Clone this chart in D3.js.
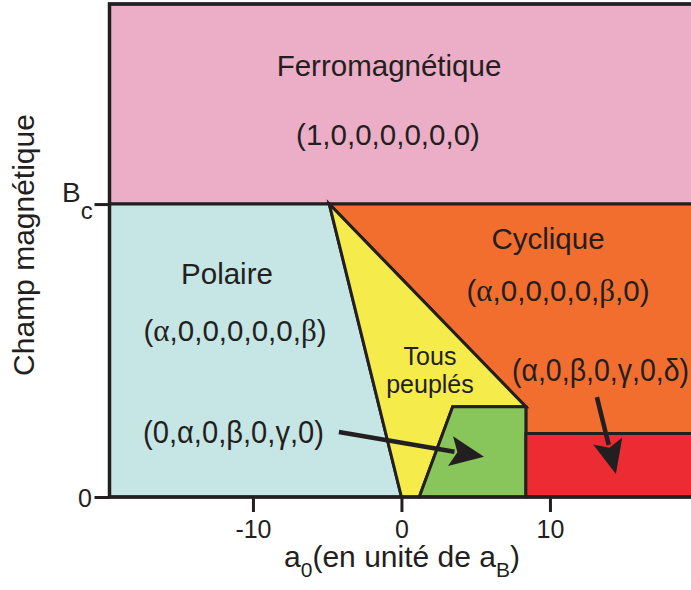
<!DOCTYPE html>
<html>
<head>
<meta charset="utf-8">
<script src="https://cdn.jsdelivr.net/npm/d3@7"></script>
<style>
  html, body { margin: 0; padding: 0; background: #ffffff; overflow: hidden; }
  svg { display: block; }
  text { font-family: "Liberation Sans", Arial, sans-serif; fill: #231f20; }
</style>
</head>
<body>
<svg id="chart" width="691" height="590"></svg>
<script>
// ---- Phase diagram data (a0 in units of aB, field in units of Bc) ----
const xExtent = [-19.66, 19.66];
const yExtent = [0, 1.683];
const xTickValues = [-10, 0, 10];
const xTickLabels = ["-10", "0", "10"];
const yTickValues = [0, 1];
const yTickLabels = ["0", "Bc"];

// boundary points of the phases
const criticalField = 1;               // Bc
const tripleX = -4.86;                 // where the polar and cyclic lines meet Bc
const polarFootX = 0;                  // polar boundary at zero field
const cornerX = 8.38;                  // right edge of the mixed region
const cornerY = 0.308;                 // top of the green pocket
const greenFootX = 1.2;
const greenShoulderX = 3.45;
const redTopY = 0.217;

const phaseNames = ["Ferromagnétique", "Polaire", "Cyclique", "Tous peuplés", "vert", "rouge"];
const phaseColors = ["#ecaec6", "#c6e5e5", "#f26e2f", "#f5eb4a", "#88c55a", "#ec2b32"];

const [x0, x1] = xExtent, [, yTop] = yExtent;
const phasePolygons = [
  [[x0, criticalField], [x1, criticalField], [x1, yTop], [x0, yTop]],
  [[x0, 0], [polarFootX, 0], [tripleX, criticalField], [x0, criticalField]],
  [[tripleX, criticalField], [x1, criticalField], [x1, redTopY], [cornerX, redTopY], [cornerX, cornerY]],
  [[polarFootX, 0], [greenFootX, 0], [greenShoulderX, cornerY], [cornerX, cornerY], [tripleX, criticalField]],
  [[greenFootX, 0], [cornerX, 0], [cornerX, cornerY], [greenShoulderX, cornerY]],
  [[cornerX, 0], [x1, 0], [x1, redTopY], [cornerX, redTopY]]
];

// arrows pointing labels to the small phases (data units)
const arrowStarts = [[-4.21, 0.222], [13.16, 0.341]];
const arrowEnds   = [[5.56, 0.137], [14.44, 0.0785]];

// ---- drawing ----
const svg = d3.select("#chart");
const x = d3.scaleLinear().domain(xExtent).range([109.5, 693.4]);
const y = d3.scaleLinear().domain(yExtent).range([497, 4]);
const line = d3.line().x(d => x(d[0])).y(d => y(d[1]));

svg.append("g").selectAll("path")
  .data(phasePolygons)
  .join("path")
  .attr("d", d => line(d) + "Z")
  .attr("fill", (d, i) => phaseColors[i])
  .attr("stroke", "#231f20")
  .attr("stroke-width", 3)
  .attr("stroke-linejoin", "miter");

// frame
svg.append("rect")
  .attr("x", x(x0)).attr("y", y(yTop))
  .attr("width", x(x1) - x(x0)).attr("height", y(0) - y(yTop))
  .attr("fill", "none").attr("stroke", "#231f20").attr("stroke-width", 3.5);

// axes
const xAxis = d3.axisBottom(x).tickValues(xTickValues)
  .tickFormat((d, i) => xTickLabels[i]).tickSize(15).tickPadding(8);
const gx = svg.append("g").attr("transform", `translate(0,${y(0)})`).call(xAxis);
gx.select(".domain").remove();
gx.selectAll(".tick line").attr("stroke", "#231f20").attr("stroke-width", 3);
gx.selectAll(".tick text").attr("font-size", 25).attr("fill", "#231f20")
  .attr("font-family", "Liberation Sans, Arial, sans-serif");

const yAxis = d3.axisLeft(y).tickValues(yTickValues).tickFormat(() => "").tickSize(15);
const gy = svg.append("g").attr("transform", `translate(${x(x0)},0)`).call(yAxis);
gy.select(".domain").remove();
gy.selectAll(".tick line").attr("stroke", "#231f20").attr("stroke-width", 3);

// y tick labels
svg.append("text").attr("x", 92).attr("y", y(yTickValues[0]) + 10)
  .attr("text-anchor", "end").attr("font-size", 25).text(yTickLabels[0]);
const bc = svg.append("text").attr("x", 62).attr("y", y(yTickValues[1]) - 2).attr("font-size", 28);
bc.append("tspan").text(yTickLabels[1][0]);
bc.append("tspan").attr("dy", 17).attr("font-size", 24).text(yTickLabels[1].slice(1));

// axis titles
const xt = svg.append("text").attr("x", 402).attr("y", 567).attr("text-anchor", "middle").attr("font-size", 30);
xt.append("tspan").text("a");
xt.append("tspan").attr("dy", 10).attr("font-size", 21).text("0");
xt.append("tspan").attr("dy", -10).text("(en unité de a");
xt.append("tspan").attr("dy", 10).attr("font-size", 21).text("B");
xt.append("tspan").attr("dy", -10).text(")");

svg.append("text").attr("transform", "translate(34,245) rotate(-90)")
  .attr("text-anchor", "middle").attr("font-size", 30).text("Champ magnétique");

// phase labels; Greek letters set in a serif face
const greek = /[αβγδ]/;
function vectorLabel(str, cx, by, opts = {}) {
  const t = svg.append("text").attr("x", cx).attr("y", by)
    .attr("text-anchor", opts.anchor || "middle")
    .attr("font-size", opts.size || 29);
  if (opts.family) t.attr("font-family", opts.family);
  if (opts.length) t.attr("textLength", opts.length).attr("lengthAdjust", "spacingAndGlyphs");
  for (const ch of str) {
    const s = t.append("tspan").text(ch);
    if (greek.test(ch) && !opts.family) s.attr("font-family", "Liberation Serif, serif").attr("font-size", (opts.size || 29) * 1.05);
  }
  return t;
}

svg.append("text").attr("x", 389).attr("y", 76).attr("text-anchor", "middle").attr("font-size", 29.5).text(phaseNames[0]);
vectorLabel("(1,0,0,0,0,0,0)", 388, 145, { size: 29.5 });
svg.append("text").attr("x", 227).attr("y", 284).attr("text-anchor", "middle").attr("font-size", 29.5).text(phaseNames[1]);
vectorLabel("(α,0,0,0,0,0,β)", 235, 341, { size: 29.5 });
svg.append("text").attr("x", 548).attr("y", 249).attr("text-anchor", "middle").attr("font-size", 29.5).text(phaseNames[2]);
vectorLabel("(α,0,0,0,0,β,0)", 558, 301, { size: 29.5 });
svg.append("text").attr("x", 430).attr("y", 365).attr("text-anchor", "middle").attr("font-size", 25).text("Tous");
svg.append("text").attr("x", 430).attr("y", 393).attr("text-anchor", "middle").attr("font-size", 25).text("peuplés");

vectorLabel("(0,α,0,β,0,γ,0)", 143, 443, { anchor: "start", size: 31, family: "Open Sans, Noto Sans, sans-serif", length: 181 });
vectorLabel("(α,0,β,0,γ,0,δ)", 512, 381, { anchor: "start", size: 31, family: "Open Sans, Noto Sans, sans-serif", length: 177 });

// arrows
const arrows = arrowStarts.map((s, i) => [[x(s[0]), y(s[1])], [x(arrowEnds[i][0]), y(arrowEnds[i][1])]]);
const headLen = 34, headHalf = 15;
arrows.forEach(([p, q]) => {
  const dx = q[0] - p[0], dy = q[1] - p[1], L = Math.hypot(dx, dy);
  const ux = dx / L, uy = dy / L, nx = -uy, ny = ux;
  const bx = q[0] - ux * headLen, by = q[1] - uy * headLen;
  svg.append("line").attr("x1", p[0]).attr("y1", p[1]).attr("x2", bx + ux * 4).attr("y2", by + uy * 4)
    .attr("stroke", "#231f20").attr("stroke-width", 4.5);
  svg.append("path")
    .attr("d", `M${q[0]},${q[1]}L${bx + nx * headHalf},${by + ny * headHalf}L${bx + ux * 7},${by + uy * 7}L${bx - nx * headHalf},${by - ny * headHalf}Z`)
    .attr("fill", "#231f20");
});
</script>
</body>
</html>
